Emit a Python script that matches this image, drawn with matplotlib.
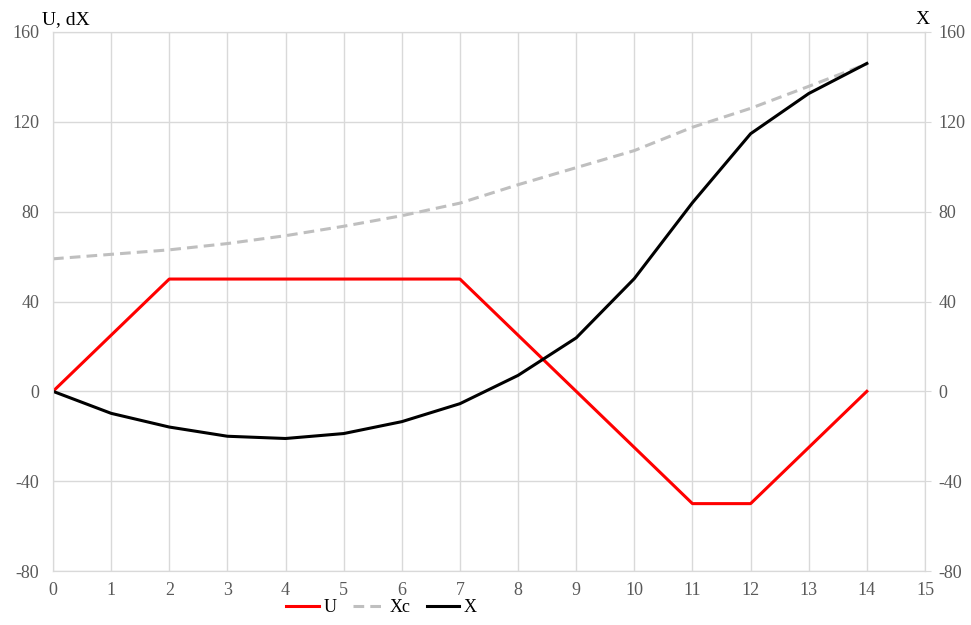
import matplotlib
matplotlib.use("Agg")
import matplotlib.pyplot as plt

plt.rcParams['font.family'] = ['Liberation Serif', 'DejaVu Serif']
plt.rcParams['axes.unicode_minus'] = False

steps = list(range(15))
U = [0, 25, 50, 50, 50, 50, 50, 50, 25, 0, -25, -50, -50, -25, 0]
Xc = [59, 61, 63, 65.8, 69.3, 73.5, 78.2, 83.8, 92, 99.6, 107.2, 117.6, 126, 135.8, 145.8]
X = [0, -9.8, -15.9, -20, -21, -18.8, -13.5, -5.5, 7.1, 23.8, 50.2, 84, 114.7, 132.6, 146]

grid_c = '#d9d9d9'
text_c = '#595959'

fig = plt.figure(figsize=(9.71, 6.25), dpi=100)
ax = fig.add_axes([0.0546, 0.0864, 0.898, 0.8624])
ax2 = ax.twinx()

ln1, = ax.plot(steps, U, color='#ff0000', lw=2.2, label='U')
ln2, = ax2.plot(steps, Xc, color='#bfbfbf', lw=2.2, ls=(0, (3.5, 2)), label='Xc')
ln3, = ax2.plot(steps, X, color='black', lw=2.2, label='X')

for a in (ax, ax2):
    a.set_ylim(-80, 160)
    a.set_yticks(range(-80, 161, 40))
    a.set_xlim(0, 15)
    for s in a.spines.values():
        s.set_color(grid_c)
    a.tick_params(labelsize=13, colors=text_c, length=0)

ax.set_xticks(range(16))
ax.grid(True, color=grid_c, lw=1)
ax.set_axisbelow(True)
ax2.tick_params(axis='y', length=4, color=grid_c, pad=6)
ax.tick_params(axis='y', pad=10)
ax.tick_params(axis='x', pad=8)

fig.text(0.043, 0.962, 'U, dX', fontsize=14, color='black')
fig.text(0.943, 0.962, 'X', fontsize=14, color='black')

fig.legend(handles=[ln1, ln2, ln3], loc='lower center', bbox_to_anchor=(0.393, -0.012),
           ncol=3, frameon=False, fontsize=13, handlelength=1.8, handletextpad=0.25,
           columnspacing=0.9)

fig.savefig('out.png', dpi=100)
